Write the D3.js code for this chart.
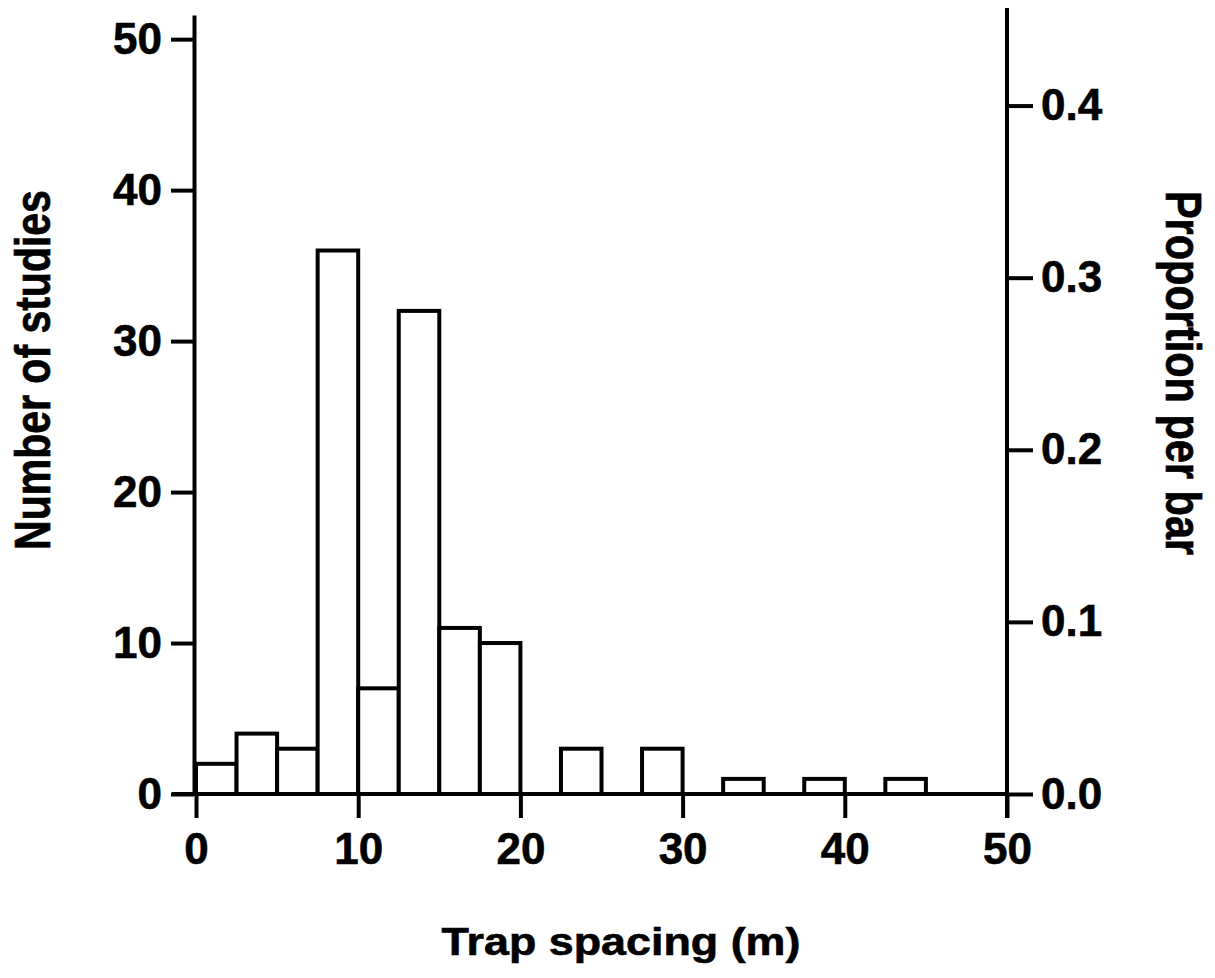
<!DOCTYPE html>
<html>
<head>
<meta charset="utf-8">
<script src="https://cdn.jsdelivr.net/npm/d3@7"></script>
<style>
  html, body { margin: 0; padding: 0; background: #fff; }
  svg text { font-family: "Liberation Sans", Arial, Helvetica, sans-serif; font-weight: bold; fill: #000; }
</style>
</head>
<body>
<svg id="chart" width="1215" height="978"></svg>
<script>
// Histogram bins (trap spacing, m) and counts
const binStarts = [0, 2.5, 5, 7.5, 10, 12.5, 15, 17.5, 20, 22.5, 25, 27.5, 30, 32.5, 35, 37.5, 40, 42.5, 45, 47.5];
const binWidth = 2.5;
const counts    = [2, 4, 3, 36, 7, 32, 11, 10, 0, 3, 0, 3, 0, 1, 0, 1, 0, 1, 0, 0];
const xTicks = [0, 10, 20, 30, 40, 50];
const yTicks = [0, 10, 20, 30, 40, 50];
const propTicks = [0.0, 0.1, 0.2, 0.3, 0.4];
const xTitle = "Trap spacing (m)";
const yTitle = "Number of studies";
const y2Title = "Proportion per bar";

const total = d3.sum(counts);
const svg = d3.select("#chart");

const x = d3.scaleLinear().domain([0, 50]).range([196, 1007]);
const y = d3.scaleLinear().domain([0, 51.6]).range([794, 15]);
const y2 = d3.scaleLinear().domain([0, 51.6 / total]).range([794, 15]);

const SW = 4;

// Bars
const bins = binStarts.map((s, i) => ({ x0: s, x1: s + binWidth, n: counts[i] })).filter(d => d.n > 0);
svg.append("g").selectAll("rect").data(bins).join("rect")
  .attr("x", d => x(d.x0))
  .attr("y", d => y(d.n))
  .attr("width", d => x(d.x1) - x(d.x0))
  .attr("height", d => y(0) - y(d.n))
  .attr("fill", "#fff")
  .attr("stroke", "#000")
  .attr("stroke-width", SW);

function styleAxis(g) {
  g.selectAll("path.domain").attr("stroke", "#000").attr("stroke-width", SW);
  g.selectAll(".tick line").attr("stroke", "#000").attr("stroke-width", SW);
  g.selectAll(".tick text").attr("font-size", 44).attr("stroke", "#000").attr("stroke-width", 0.6);
  g.attr("font-family", null).attr("font-size", null);
}

// Bottom axis
const gx = svg.append("g").attr("transform", `translate(0,${y(0)})`)
  .call(d3.axisBottom(x).tickValues(xTicks).tickSize(24).tickSizeOuter(0).tickPadding(15).tickFormat(d3.format("d")));
styleAxis(gx);
gx.select("path.domain").attr("d", `M${x(0) - 24},0H${x(50)}`);

// Left axis
const gy = svg.append("g").attr("transform", `translate(${x(0) - 2},0)`)
  .call(d3.axisLeft(y).tickValues(yTicks).tickSize(23).tickSizeOuter(0).tickPadding(9).tickFormat(d3.format("d")));
styleAxis(gy);

// Right axis
const gy2 = svg.append("g").attr("transform", `translate(${x(50)},0)`)
  .call(d3.axisRight(y2).tickValues(propTicks).tickSize(26).tickSizeOuter(0).tickPadding(8).tickFormat(d3.format(".1f")));
styleAxis(gy2);
gy2.select("path.domain").attr("d", `M0,${y(0) + 24}V8`);

// Titles
svg.append("text")
  .attr("transform", `translate(621,955) scale(1.15,1)`)
  .attr("text-anchor", "middle")
  .attr("font-size", 39)
  .attr("stroke", "#000").attr("stroke-width", 0.6)
  .text(xTitle);

svg.append("text")
  .attr("transform", `translate(50,370) rotate(-90) scale(1,1.2)`)
  .attr("text-anchor", "middle")
  .attr("font-size", 41)
  .attr("stroke", "#000").attr("stroke-width", 0.6)
  .text(yTitle);

svg.append("text")
  .attr("transform", `translate(1166,373) rotate(90) scale(1,1.2)`)
  .attr("text-anchor", "middle")
  .attr("font-size", 41.5)
  .attr("stroke", "#000").attr("stroke-width", 0.6)
  .text(y2Title);
</script>
</body>
</html>
